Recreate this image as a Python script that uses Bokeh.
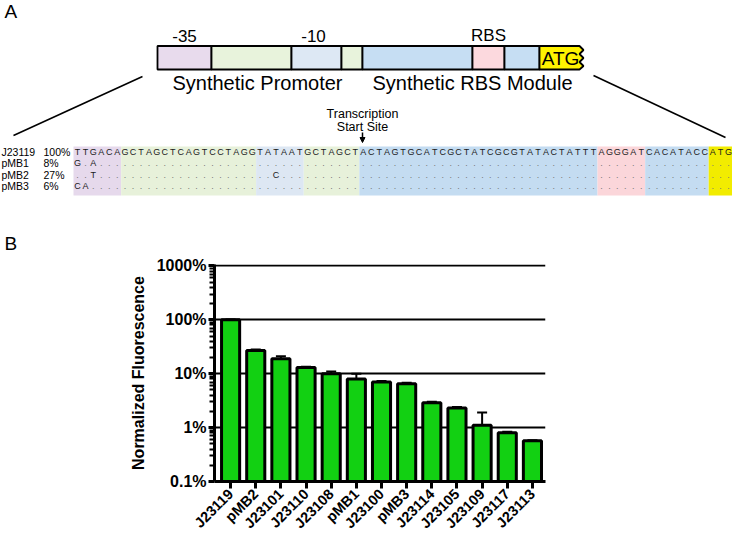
import math
from bokeh.plotting import figure
from bokeh.models import (Range1d, FixedTicker, ColumnDataSource, Whisker, TeeHead,
                          Arrow, NormalHead)
from bokeh.layouts import column
from bokeh.embed import file_html
from bokeh.resources import INLINE
from bokeh.core.properties import value

FONT = "Liberation Sans"

# ------------------------------------------------------------------ data
strains = ["J23119", "pMB2", "J23101", "J23110", "J23108", "pMB1", "J23100",
           "pMB3", "J23114", "J23105", "J23109", "J23117", "J23113"]
fluorescence = [100, 27, 19, 13, 10, 8, 7, 6.5, 2.9, 2.3, 1.1, 0.8, 0.57]
fluorescence_upper = [101, 28, 21, 13.5, 11, 10, 7.3, 6.8, 3.0, 2.4, 1.9, 0.84, 0.58]
y_tick_values = [0.1, 1, 10, 100, 1000]
y_tick_labels = ["0.1%", "1%", "10%", "100%", "1000%"]

seq_parts = ["TTGACA", "GCTAGCTCAGTCCTAGG", "TATAAT", "GCTAGCT",
             "ACTAGTGCATCGCTATCGCGTATACTATTT", "AGGGAT", "CACATACC", "ATG"]
ref_name, ref_pct = "J23119", "100%"
variant_names = ["pMB1", "pMB2", "pMB3"]
variant_pcts = ["8%", "27%", "6%"]
variant_mutations = [{0: "G", 2: "A"}, {2: "T", 25: "C"}, {0: "C", 1: "A"}]

schematic_top_labels = ["-35", "-10", "RBS"]
schematic_bottom_labels = ["Synthetic Promoter", "Synthetic RBS Module"]

# ------------------------------------------------------------------ styles
band_colors = ["#e6d9ec", "#e7f1da", "#dde7f3", "#e7f1da", "#c4dcf1", "#fbd6da", "#c4dcf1", "#f2ec00"]
schem_colors = ["#e8dbed", "#e8f3dc", "#dde8f4", "#e8f3dc", "#c6def3", "#fcd9de", "#c6def3"]
schem_edges = [157, 211, 291, 341, 362, 472, 504, 539]
GREEN = "#12d012"

W = 732
HA = 256
HB = 284

# ================================================================== panel A
pa = figure(width=W, height=HA, x_range=Range1d(0, W), y_range=Range1d(HA, 0),
            x_axis_type=None, y_axis_type=None, output_backend="svg",
            toolbar_location=None, min_border=0)
pa.grid.visible = False
pa.outline_line_color = None
pa.frame_align = False

def txt(p, x, y, t, size, align="center", color="black", style="normal", baseline="middle"):
    p.text(x=x, y=y, text=t, text_font=value(FONT), text_font_size=size,
           text_align=align, text_baseline=baseline, text_color=color,
           text_font_style=style)

txt(pa, [4], [11], ["A"], "19px", align="left")
txt(pa, [4], [243], ["B"], "19px", align="left")

# schematic
S_TOP, S_BOT = 45.5, 69
pa.quad(left=schem_edges[:-1], right=schem_edges[1:], top=S_TOP, bottom=S_BOT,
        fill_color=schem_colors, line_color="black", line_width=1.8)
zx = [539, 579, 583, 579, 583, 579, 583, 579, 539]
zy = [S_TOP, S_TOP, 49.5, 53.5, 57.5, 61.5, 65.5, S_BOT, S_BOT]
pa.patch(zx, zy, fill_color="#fff200", line_color="black", line_width=1.8)
txt(pa, [560], [58], ["ATG"], "19px")
txt(pa, [184, 313, 488], [35, 35, 35], schematic_top_labels, "17px")
txt(pa, [257, 472], [82, 82], schematic_bottom_labels, "20px")

# zoom lines
pa.segment(x0=[142, 593], y0=[76, 75], x1=[13, 725], y1=[135, 137],
           line_color="black", line_width=1.6)

# transcription start site
txt(pa, [362, 362], [113, 126], ["Transcription", "Start Site"], "12.5px")
pa.add_layout(Arrow(end=NormalHead(size=5, fill_color="black", line_color="black"),
                    x_start=362, y_start=132, x_end=362, y_end=142,
                    line_width=1.5, line_color="black"))

# alignment
SEQ_LEFT, SEQ_RIGHT = 73, 732
BAND_TOP, BAND_BOT = 146, 195
rows_y = [151, 162.5, 174, 185.5]
full_seq = "".join(seq_parts)
n = len(full_seq)
cw = (SEQ_RIGHT - SEQ_LEFT) / n
lefts, rights = [], []
pos = 0
for part in seq_parts:
    lefts.append(SEQ_LEFT + pos * cw)
    pos += len(part)
    rights.append(SEQ_LEFT + pos * cw)
pa.quad(left=lefts, right=rights, top=BAND_TOP, bottom=BAND_BOT,
        fill_color=band_colors, line_color=None)

lx, ly, lt, dx, dy = [], [], [], [], []
for i, ch in enumerate(full_seq):
    lx.append(SEQ_LEFT + (i + 0.5) * cw); ly.append(rows_y[0]); lt.append(ch)
for r, muts in enumerate(variant_mutations):
    for i in range(n):
        x = SEQ_LEFT + (i + 0.5) * cw
        if i in muts:
            lx.append(x); ly.append(rows_y[r + 1]); lt.append(muts[i])
        else:
            dx.append(x); dy.append(rows_y[r + 1])
txt(pa, lx, ly, lt, "9px", color="#1a1a1a")
txt(pa, dx, dy, ["."] * len(dx), "9px", color="#777777")

names = [ref_name] + variant_names
pcts = [ref_pct] + variant_pcts
txt(pa, [1] * 4, rows_y, names, "10.5px", align="left")
txt(pa, [43] * 4, rows_y, pcts, "10.5px", align="left")

# ================================================================== panel B
pb = figure(width=W, height=HB, y_axis_type="log",
            x_range=Range1d(-0.64, 12.52), y_range=Range1d(0.1, 1060),
            output_backend="svg", toolbar_location=None,
            min_border_left=214, min_border_right=187, min_border_top=8,
            min_border_bottom=55)
pb.outline_line_color = None
pb.xgrid.visible = False
pb.frame_align = False

xs = list(range(len(strains)))
src = ColumnDataSource(dict(x=xs, top=fluorescence, upper=fluorescence_upper))

minor = [d * k for d in (0.1, 1, 10, 100) for k in range(2, 10)]
pb.yaxis.ticker = FixedTicker(ticks=y_tick_values, minor_ticks=minor)
pb.ygrid.ticker = FixedTicker(ticks=y_tick_values)
pb.ygrid.grid_line_color = "black"
pb.ygrid.grid_line_width = 2
pb.yaxis.major_label_overrides = {v: l for v, l in zip(y_tick_values, y_tick_labels)}
pb.yaxis.axis_label = "Normalized Fluorescence"

pb.xaxis.ticker = FixedTicker(ticks=xs)
pb.xaxis.major_label_overrides = {i: s for i, s in zip(xs, strains)}
pb.xaxis.major_label_orientation = math.pi / 4

for ax in (pb.xaxis[0], pb.yaxis[0]):
    ax.axis_line_width = 3
    ax.axis_line_color = "black"
    ax.major_tick_line_width = 3
    ax.major_tick_line_color = "black"
    ax.major_tick_in = 0
    ax.major_tick_out = 6
    ax.major_label_text_font = FONT
    ax.major_label_text_font_style = "bold"
    ax.major_label_text_color = "black"
pb.yaxis.minor_tick_line_width = 2
pb.yaxis.minor_tick_line_color = "black"
pb.yaxis.minor_tick_in = 0
pb.yaxis.minor_tick_out = 5
pb.yaxis.major_label_text_font_size = "16px"
pb.yaxis.major_label_standoff = 2
pb.yaxis.axis_label_text_font = FONT
pb.yaxis.axis_label_text_font_style = "bold"
pb.yaxis.axis_label_text_font_size = "16px"
pb.yaxis.axis_label_text_color = "black"
pb.yaxis.axis_label_standoff = 7
pb.xaxis.minor_tick_line_color = None
pb.xaxis.major_tick_out = 7
pb.xaxis.major_label_text_font_size = "14.5px"
pb.xaxis.major_label_standoff = 3

pb.vbar(x="x", top="top", bottom=0.1, width=0.72, source=src,
        fill_color=GREEN, line_color="black", line_width=3)
pb.add_layout(Whisker(source=src, base="x", lower="top", upper="upper",
                      line_color="black", line_width=2,
                      upper_head=TeeHead(size=10, line_width=2, line_color="black"),
                      lower_head=None))

layout = column(pa, pb, spacing=0)
open("out.html", "w").write(file_html(layout, INLINE))
